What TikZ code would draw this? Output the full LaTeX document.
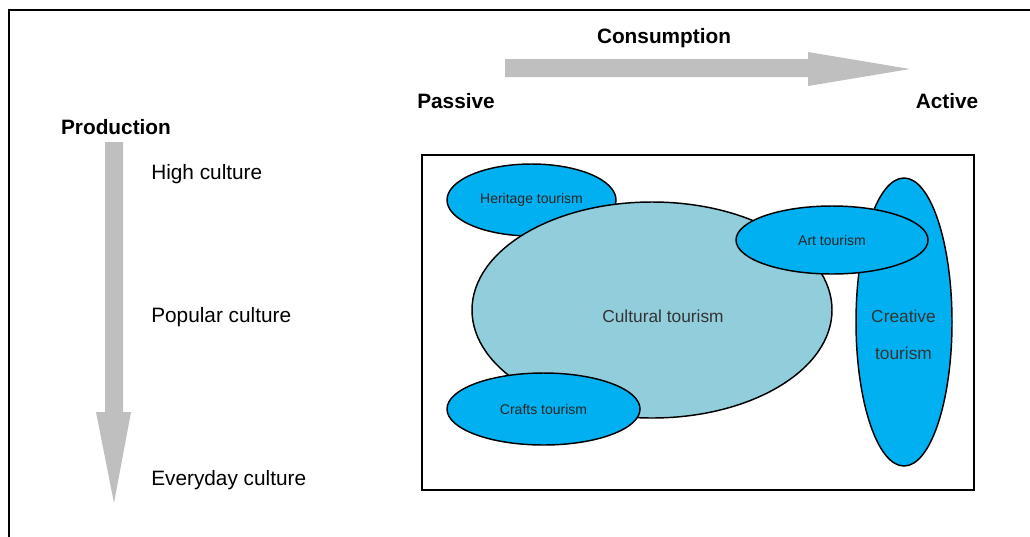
\documentclass[tikz,border=0pt]{standalone}
\usepackage{fontspec}
\setmainfont{Liberation Sans}
\usetikzlibrary{shapes.geometric}
\begin{document}
\begin{tikzpicture}[x=0.75pt,y=-0.75pt,
  heading/.style={font=\fontsize{15.6}{18}\selectfont\bfseries},
  level/.style={anchor=west,inner sep=0pt,font=\fontsize{15.6}{18}\selectfont},
  blob/.style={draw,ellipse,line width=1.1pt,inner sep=0pt},
  extent/.style 2 args={minimum width=#1*0.75pt,minimum height=#2*0.75pt},
  small/.style={font=\fontsize{10.5}{12}\selectfont,text=black!85},
  big/.style={font=\fontsize{13}{27.75}\selectfont,text=black!80,align=center}]
\definecolor{brightblue}{RGB}{0,176,240}
\definecolor{paleblue}{RGB}{146,205,220}
\definecolor{arrowgray}{RGB}{191,191,191}

\clip (0,0) rectangle (1030,536);
\draw[line width=1.3pt] (9,10) rectangle (1060,560);

% axes
\fill[arrowgray] (505,59) -- (808,59) -- (808,52) -- (910,69) -- (808,86) -- (808,77) -- (505,77) -- cycle;
\fill[arrowgray] (105,142) -- (123,142) -- (123,412) -- (131,412) -- (114,503) -- (96,412) -- (105,412) -- cycle;

\node[heading] (cons) at (664,38) {Consumption};
\node[heading] (pass) at (456,101) {Passive};
\node[heading] (act) at (947,101) {Active};
\node[heading] (prod) at (116,127) {Production};
\node[level] (high) at (151,174) {High culture};
\node[level] (pop) at (151,317) {Popular culture};
\node[level] (every) at (151,480) {Everyday culture};

% tourism types
\draw[line width=1.1pt] (422,155) rectangle (974,490);
\node[blob, fill=brightblue, extent={169}{72}, small] (heritage) at (531.5,200) {Heritage tourism};
\node[blob, fill=paleblue, extent={360}{216}] (cultural) at (652,310) {};
\node[big] (cultext) at (663,316) {Cultural tourism};
\node[blob, fill=brightblue, extent={193}{72}, small] (crafts) at (543.5,409) {Crafts tourism};
\node[blob, fill=brightblue, extent={96}{288}] (creative) at (904,322) {};
\node[big] (cretext) at (903.5,334.5) {Creative\\tourism};
\node[blob, fill=brightblue, extent={192}{68}, small] (art) at (832,240) {Art tourism};
\end{tikzpicture}
\end{document}
